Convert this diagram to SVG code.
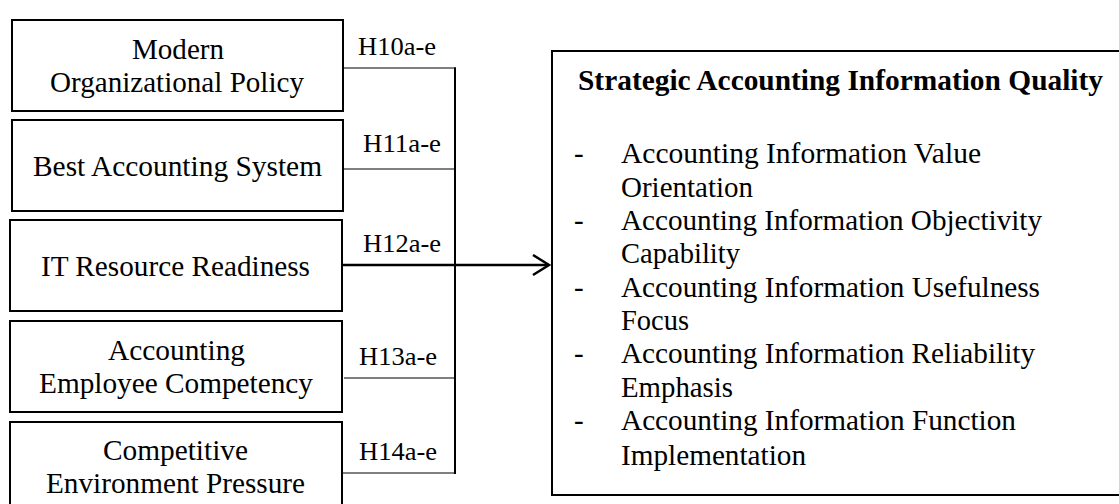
<svg xmlns="http://www.w3.org/2000/svg" width="1119" height="504" viewBox="0 0 1119 504">
  <style>
    .box { fill: #ffffff; stroke: #000000; stroke-width: 2; }
    .t { font-family: "Liberation Serif", "Times New Roman", serif; font-size: 29px; fill: #000000; }
    .lbl { font-size: 26px; }
    .b { font-weight: bold; font-size: 29.5px; }
    .ln { stroke: #000000; stroke-width: 1.2; fill: none; }
    .bus { stroke: #000000; stroke-width: 2; fill: none; }
    .main { stroke: #000000; stroke-width: 2.5; fill: none; }
  </style>
  <defs>
    <marker id="arrow" markerWidth="20" markerHeight="24" refX="17" refY="11" orient="auto" markerUnits="userSpaceOnUse">
      <path d="M1,1 L17,11 L1,21" fill="none" stroke="#000000" stroke-width="2.5"/>
    </marker>
  </defs>

  <rect width="1119" height="504" fill="#ffffff"/>

  <!-- connectors: each factor feeds one vertical bus, the bus feeds the outcome -->
  <g id="connectors">
    <line class="ln" x1="344" y1="68" x2="456" y2="68"/>
    <line class="ln" x1="344" y1="169" x2="456" y2="169"/>
    <line class="ln" x1="344" y1="378" x2="456" y2="378"/>
    <line class="ln" x1="342" y1="473" x2="456" y2="473"/>
    <line class="bus" x1="455" y1="67.5" x2="455" y2="474"/>
    <line class="main" x1="342" y1="265" x2="549" y2="265" marker-end="url(#arrow)"/>
    <text class="t lbl" x="358" y="55" textLength="78" lengthAdjust="spacingAndGlyphs">H10a-e</text>
    <text class="t lbl" x="363" y="152" textLength="78" lengthAdjust="spacingAndGlyphs">H11a-e</text>
    <text class="t lbl" x="363" y="252" textLength="78" lengthAdjust="spacingAndGlyphs">H12a-e</text>
    <text class="t lbl" x="359" y="365" textLength="78" lengthAdjust="spacingAndGlyphs">H13a-e</text>
    <text class="t lbl" x="359" y="460" textLength="78" lengthAdjust="spacingAndGlyphs">H14a-e</text>
  </g>

  <g id="modern-organizational-policy">
    <rect class="box" x="12" y="20" width="331" height="91"/>
    <text class="t" x="132" y="59" textLength="92" lengthAdjust="spacingAndGlyphs">Modern</text>
    <text class="t" x="50" y="92" textLength="254" lengthAdjust="spacingAndGlyphs">Organizational Policy</text>
  </g>

  <g id="best-accounting-system">
    <rect class="box" x="12" y="120" width="331" height="91"/>
    <text class="t" x="33" y="176" textLength="289" lengthAdjust="spacingAndGlyphs">Best Accounting System</text>
  </g>

  <g id="it-resource-readiness">
    <rect class="box" x="10" y="220" width="332" height="91"/>
    <text class="t" x="41" y="276" textLength="269" lengthAdjust="spacingAndGlyphs">IT Resource Readiness</text>
  </g>

  <g id="accounting-employee-competency">
    <rect class="box" x="10" y="321" width="332" height="91"/>
    <text class="t" x="108" y="360" textLength="137" lengthAdjust="spacingAndGlyphs">Accounting</text>
    <text class="t" x="39" y="393" textLength="274" lengthAdjust="spacingAndGlyphs">Employee Competency</text>
  </g>

  <g id="competitive-environment-pressure">
    <rect class="box" x="10" y="422" width="332" height="86"/>
    <text class="t" x="103" y="460" textLength="145" lengthAdjust="spacingAndGlyphs">Competitive</text>
    <text class="t" x="46" y="493" textLength="259" lengthAdjust="spacingAndGlyphs">Environment Pressure</text>
  </g>

  <g id="strategic-accounting-information-quality">
    <rect class="box" x="552" y="51" width="572" height="444"/>
    <text class="t b" x="578" y="90" textLength="525" lengthAdjust="spacingAndGlyphs">Strategic Accounting Information Quality</text>
    <text class="t" x="574" y="163">-</text>
    <text class="t" x="621" y="163" textLength="360" lengthAdjust="spacingAndGlyphs">Accounting Information Value</text>
    <text class="t" x="621" y="197" textLength="132" lengthAdjust="spacingAndGlyphs">Orientation</text>
    <text class="t" x="574" y="230">-</text>
    <text class="t" x="621" y="230" textLength="421" lengthAdjust="spacingAndGlyphs">Accounting Information Objectivity</text>
    <text class="t" x="621" y="263" textLength="119" lengthAdjust="spacingAndGlyphs">Capability</text>
    <text class="t" x="574" y="297">-</text>
    <text class="t" x="621" y="297" textLength="419" lengthAdjust="spacingAndGlyphs">Accounting Information Usefulness</text>
    <text class="t" x="621" y="330" textLength="68" lengthAdjust="spacingAndGlyphs">Focus</text>
    <text class="t" x="574" y="363">-</text>
    <text class="t" x="621" y="363" textLength="414" lengthAdjust="spacingAndGlyphs">Accounting Information Reliability</text>
    <text class="t" x="621" y="397" textLength="112" lengthAdjust="spacingAndGlyphs">Emphasis</text>
    <text class="t" x="574" y="430">-</text>
    <text class="t" x="621" y="430" textLength="395" lengthAdjust="spacingAndGlyphs">Accounting Information Function</text>
    <text class="t" x="621" y="465" textLength="185" lengthAdjust="spacingAndGlyphs">Implementation</text>
  </g>
</svg>
